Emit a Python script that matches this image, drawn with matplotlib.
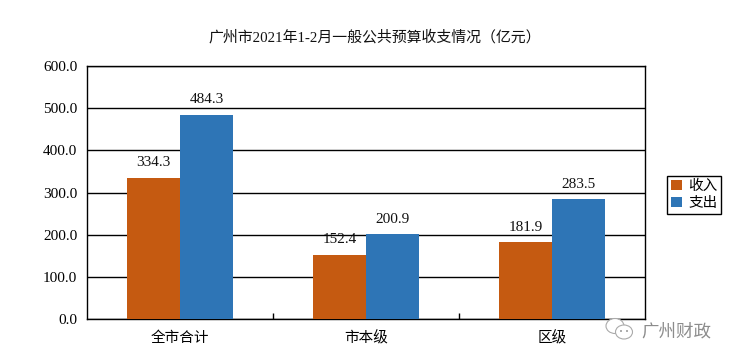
#!/usr/bin/env python3
"""Guangzhou 2021 Jan-Feb general public budget, income vs spending."""
import matplotlib

matplotlib.use("Agg")
import matplotlib.pyplot as plt  # noqa: E402
from matplotlib.patches import Ellipse  # noqa: E402

FONT = ["Liberation Serif", "Noto Sans CJK SC"]
plt.rcParams["font.family"] = FONT

TITLE = "广州市2021年1-2月一般公共预算收支情况（亿元）"
CATEGORIES = ["全市合计", "市本级", "区级"]
INCOME = [334.3, 152.4, 181.9]
SPENDING = [484.3, 200.9, 283.5]
YTICKS = [0, 100, 200, 300, 400, 500, 600]

W, H = 735, 363
FS = 10.5
FS_NUM = 11
ORANGE = "#C55A11"
BLUE = "#2E75B6"

fig = plt.figure(figsize=(W / 100, H / 100), dpi=100)
ax = fig.add_axes([87 / W, 1 - 319 / H, (645 - 87) / W, (319 - 66) / H])

xs = list(range(len(CATEGORIES)))
bw = 0.285
b1 = ax.bar([x - bw / 2 for x in xs], INCOME, bw, color=ORANGE, label="收入", zorder=3)
b2 = ax.bar([x + bw / 2 for x in xs], SPENDING, bw, color=BLUE, label="支出", zorder=3)

for bars, vals in ((b1, INCOME), (b2, SPENDING)):
    for rect, v in zip(bars, vals):
        ax.annotate(f"{v:.1f}", (rect.get_x() + rect.get_width() / 2, v),
                    xytext=(0, 11), textcoords="offset points",
                    ha="center", va="center", fontsize=FS_NUM, color="#111111")

ax.set_xlim(-0.5, 2.5)
ax.set_ylim(0, 600)
ax.set_yticks(YTICKS)
ax.set_yticklabels([f"{v:.1f}" for v in YTICKS], fontsize=FS_NUM)
ax.tick_params(axis="y", length=0, pad=7)
ax.set_xticks(xs)
ax.set_xticklabels(CATEGORIES, fontsize=FS)
ax.tick_params(axis="x", length=0, pad=9)
ax.set_xticks([0.5, 1.5], minor=True)
ax.tick_params(axis="x", which="minor", direction="in", length=4, width=1, color="black")
ax.grid(True, axis="y", color="black", lw=1, zorder=1)
ax.set_axisbelow(True)
for s in ax.spines.values():
    s.set_linewidth(1)
    s.set_color("black")

fig.text(375 / W, 1 - 37 / H, TITLE, ha="center", va="center", fontsize=10.75, color="#111111")

leg = fig.legend(loc="upper left", bbox_to_anchor=(667 / W, 1 - 176 / H),
                 fontsize=FS, frameon=True, fancybox=False, edgecolor="black",
                 framealpha=1, borderpad=0.25, borderaxespad=0, labelspacing=0.25,
                 handlelength=0.75, handleheight=0.75, handletextpad=0.45)
leg.get_frame().set_linewidth(1)

# watermark at the bottom right
GREY = "#8c8c8c"
fig.text(641 / W, 1 - 332 / H, "广州财政", ha="left", va="center", fontsize=12.6,
         color=GREY)
for cx, cy, w, h in ((615, 326, 18, 15), (624, 332, 17, 14)):
    fig.add_artist(Ellipse((cx / W, 1 - cy / H), w / W, h / H, facecolor="white",
                           edgecolor="#aaaaaa", lw=0.8, transform=fig.transFigure))
for cx, cy in ((621, 331), (627, 331)):
    fig.add_artist(Ellipse((cx / W, 1 - cy / H), 2 / W, 2 / H, facecolor="#999999",
                           edgecolor="none", transform=fig.transFigure))

fig.savefig("out.png", dpi=100)
